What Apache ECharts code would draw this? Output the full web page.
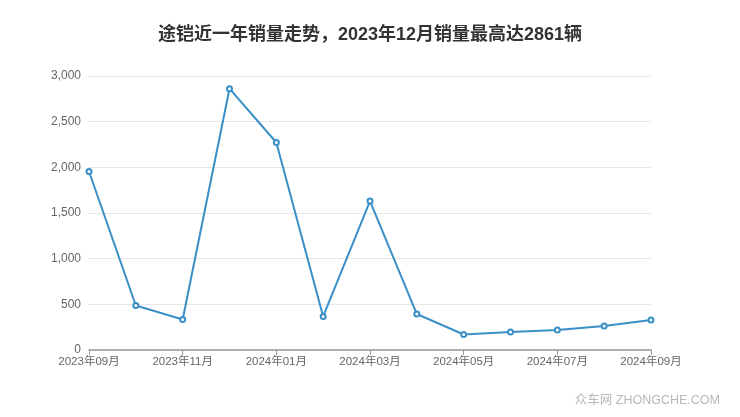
<!DOCTYPE html>
<html><head><meta charset="utf-8">
<script src="https://cdn.jsdelivr.net/npm/echarts@6/dist/echarts.min.js"></script>
<style>html,body{margin:0;padding:0;background:#fff}#c{width:740px;height:417px}</style>
</head><body><div id="c"></div>
<script>
const titleText = '途铠近一年销量走势，2023年12月销量最高达2861辆';
const months = ['2023年09月','2023年10月','2023年11月','2023年12月','2024年01月','2024年02月','2024年03月','2024年04月','2024年05月','2024年06月','2024年07月','2024年08月','2024年09月'];
const sales = [1954, 487, 334, 2861, 2272, 367, 1631, 394, 170, 197, 219, 263, 328];
const yTicks = [0, 500, 1000, 1500, 2000, 2500, 3000];

const chart = echarts.init(document.getElementById('c'));
chart.setOption({
  backgroundColor: '#fff',
  animation: false,
  title: {
    text: titleText, left: 'center', top: 21,
    textStyle: {fontSize: 18, fontWeight: 'bold', color: '#333', fontFamily: '"Liberation Sans", "Noto Sans CJK SC"'}
  },
  grid: {left: 89, right: 89, top: 76, bottom: 67},
  xAxis: {
    type: 'category', data: months, boundaryGap: false,
    axisLine: {lineStyle: {color: '#999', width: 1.5}},
    axisTick: {show: true, interval: 1, lineStyle: {color: '#999'}},
    axisLabel: {interval: 1, color: '#666', fontSize: 11.5, fontFamily: '"Liberation Sans", "Noto Sans CJK SC"', margin: 6}
  },
  yAxis: {
    type: 'value', min: yTicks[0], max: yTicks[yTicks.length-1], interval: 500,
    axisLine: {show: false}, axisTick: {show: false},
    splitLine: {lineStyle: {color: '#e6e6e6'}},
    axisLabel: {color: '#666', fontSize: 12, margin: 8, fontFamily: '"Liberation Sans"',
      formatter: v => v.toLocaleString('en-US')}
  },
  series: [{
    type: 'line', data: sales,
    symbol: 'emptyCircle', symbolSize: 5, showAllSymbol: true,
    lineStyle: {color: '#3a8fc6', width: 2},
    itemStyle: {color: '#3a8fc6', borderWidth: 1.5}
  }],
  graphic: [{
    type: 'text', right: 20, bottom: 10,
    style: {text: '众车网 ZHONGCHE.COM', fill: '#b8b8b8', fontSize: 12.5, fontFamily: '"Liberation Sans", "Noto Sans CJK SC"'}
  }]
});
</script></body></html>
